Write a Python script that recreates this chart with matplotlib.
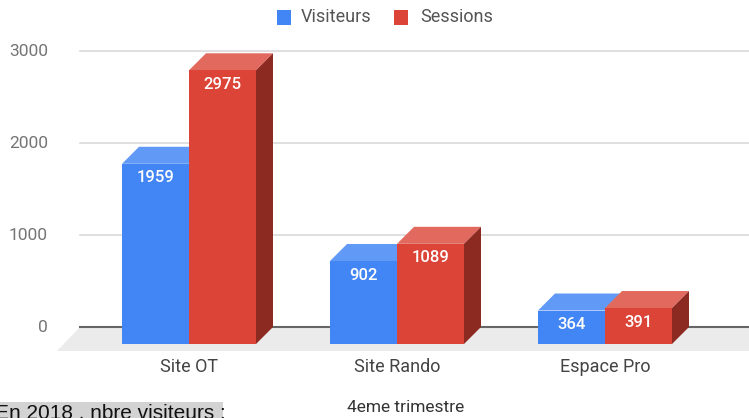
import matplotlib.pyplot as plt
from matplotlib.patches import Polygon, Rectangle

plt.rcParams['font.family'] = ['Roboto', 'DejaVu Sans']

# donnees
categories = ['Site OT', 'Site Rando', 'Espace Pro']
visiteurs = [1959, 902, 364]
sessions = [2975, 1089, 391]
series_names = ['Visiteurs', 'Sessions']
yticks = [0, 1000, 2000, 3000]

# couleurs (faces avant, dessus, cote)
blue = ('#4285F4', '#6199F6', '#2F5FB0')
red = ('#DB4437', '#E2695E', '#8C2A22')

W, H = 749, 418
fig = plt.figure(figsize=(W / 100, H / 100), dpi=100)

# axes calé sur la zone des lignes de grille (pixels 80..749 / 51..327)
x0px, x1px, ytop, y0px = 80, 749, 51, 327
ax = fig.add_axes([x0px / W, 1 - y0px / H, (x1px - x0px) / W, (y0px - ytop) / H])
pxx = 208.0               # pixels par categorie
pxy = (y0px - ytop) / 3000.0  # pixels par unite
c0 = 189                  # centre de la 1ere categorie (face avant)
ax.set_xlim((x0px - c0) / pxx, (x1px - c0) / pxx)
ax.set_ylim(0, 3000)
ax.axis('off')

bw = 67 / pxx
dx = 17 / pxx
dy = 17 / pxy

# sol gris
fdx, fdy = 23 / pxx, 24 / pxy
xl, xr = ax.get_xlim()
floor = Polygon([(xl, 0), (xr + 1, 0), (xr + 1 - fdx, -fdy), (xl - fdx, -fdy)],
                closed=True, facecolor='#EBEBEB', edgecolor='none', clip_on=False, zorder=1)
ax.add_patch(floor)

# grille
for t in yticks[1:]:
    ax.plot([xl, xr], [t, t], color='#D9D9D9', lw=1.2, clip_on=False, zorder=0)
    ax.text(xl - 32 / pxx, t, str(t), ha='right', va='center', fontsize=12.5, color='#757575')
ax.plot([xl, xr], [0, 0], color='#666666', lw=1.5, clip_on=False, zorder=2)
ax.text(xl - 32 / pxx, 0, '0', ha='right', va='center', fontsize=12.5, color='#757575')


def bar3d(xa, v, cols, side=True):
    xb = xa + bw
    ax.add_patch(Polygon([(xa, v - dy), (xb, v - dy), (xb + dx, v), (xa + dx, v)],
                         closed=True, facecolor=cols[1], edgecolor='none', clip_on=False, zorder=3))
    if side:
        ax.add_patch(Polygon([(xb, -dy), (xb + dx, 0), (xb + dx, v), (xb, v - dy)],
                             closed=True, facecolor=cols[2], edgecolor='none', clip_on=False, zorder=3))
    ax.add_patch(Rectangle((xa, -dy), bw, v, facecolor=cols[0], edgecolor='none',
                           clip_on=False, zorder=4))
    ax.text(xa + bw / 2, v - dy - 14 / pxy, str(v), ha='center', va='center',
            fontsize=12, fontweight='medium', color='white', zorder=5)


for i, cat in enumerate(categories):
    bar3d(i - bw, visiteurs[i], blue, side=False)
    bar3d(i, sessions[i], red)
    ax.text(i, -(367 - y0px) / pxy, cat, ha='center', va='center', fontsize=13, color='#444444')

# titre axe x
ax.text((406 - c0) / pxx, -(407 - y0px) / pxy, '4eme trimestre', ha='center', va='center',
        fontsize=12.5, color='#333333')

# legende
fig.patches.append(Rectangle((277 / W, 1 - 25 / H), 14 / W, 15 / H, transform=fig.transFigure,
                             facecolor=blue[0], edgecolor='none'))
fig.text(301 / W, 1 - 17 / H, series_names[0], ha='left', va='center', fontsize=13, color='#555555')
fig.patches.append(Rectangle((394 / W, 1 - 25 / H), 14 / W, 15 / H, transform=fig.transFigure,
                             facecolor=red[0], edgecolor='none'))
fig.text(420 / W, 1 - 17 / H, series_names[1], ha='left', va='center', fontsize=13, color='#555555')

# texte coupe en bas a gauche
fig.patches.append(Rectangle((0, 0), 223 / W, 16 / H, transform=fig.transFigure,
                             facecolor='#D3D3D3', edgecolor='none'))
fig.text(-5 / W, 1 - 413 / H, 'En 2018 , nbre visiteurs :', ha='left', va='center',
         fontsize=15, color='#111111', family=['Liberation Sans', 'DejaVu Sans'])

fig.savefig('out.png', dpi=100)
